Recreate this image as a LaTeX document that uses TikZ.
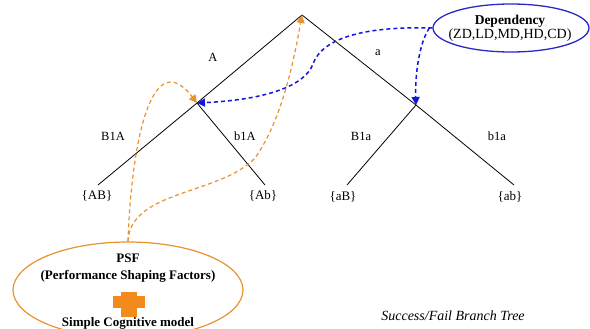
\documentclass[tikz,border=0pt]{standalone}
\usepackage{fontspec}
\setmainfont{Liberation Serif}
\usetikzlibrary{arrows.meta,shapes.geometric}
\definecolor{orangeline}{RGB}{232,146,48}
\definecolor{orangefill}{RGB}{242,138,28}
\definecolor{blueline}{RGB}{20,20,225}
\definecolor{ellblue}{RGB}{40,40,200}
\begin{document}
\begin{tikzpicture}[x=1pt,y=-1pt,
  branch/.style={draw=black,line width=0.8pt},
  lbl/.style={font=\fontsize{12.5}{13}\selectfont,inner sep=0pt},
  leaf/.style={font=\fontsize{13}{14}\selectfont,inner sep=0pt},
  odash/.style={draw=orangeline,line width=1.2pt,dash pattern=on 4pt off 3pt,-{Triangle[length=8pt,width=8pt]}},
  bdash/.style={draw=blueline,line width=1.5pt,dash pattern=on 4pt off 3pt,-{Triangle[length=8pt,width=8pt]}}]
\useasboundingbox (0,0) rectangle (590,329);
\clip (0,0) rectangle (590,329);
% tree points
\coordinate (root) at (302,15);
\coordinate (nA) at (197,103);
\coordinate (na) at (416,105);
\coordinate (lAB) at (98,185);
\coordinate (lAb) at (265,185);
\coordinate (laB) at (347,185);
\coordinate (lab) at (514,185);
\draw[branch] (root) -- (nA);
\draw[branch] (root) -- (na);
\draw[branch] (nA) -- (lAB);
\draw[branch] (nA) -- (lAb);
\draw[branch] (na) -- (laB);
\draw[branch] (na) -- (lab);
% branch labels
\node[lbl] (tA) at (213,57) {A};
\node[lbl] (ta) at (378,53) {a};
\node[lbl] (tB1A) at (113,136) {B1A};
\node[lbl] (tb1A) at (245,136) {b1A};
\node[lbl] (tB1a) at (361,136) {B1a};
\node[lbl] (tb1a) at (497,136) {b1a};
% leaves
\node[leaf] (sAB) at (97,196) {\{AB\}};
\node[leaf] (sAb) at (263,196) {\{Ab\}};
\node[leaf] (saB) at (343,197) {\{aB\}};
\node[leaf] (sab) at (510,197) {\{ab\}};
% dependency ellipse
\node[draw=ellblue,line width=1.3pt,ellipse,minimum width=156pt,minimum height=48pt,inner sep=0pt] (dep) at (511,28) {};
\node[inner sep=0pt,font=\fontsize{13.5}{14}\selectfont\bfseries] (depT) at (510,21) {Dependency};
\node[inner sep=0pt,font=\fontsize{14}{14}\selectfont] (depS) at (510,35) {(ZD,LD,MD,HD,CD)};
% PSF ellipse
\node[draw=orangeline,line width=1.2pt,ellipse,minimum width=230pt,minimum height=96pt,inner sep=0pt] (psf) at (128,290) {};
\node[inner sep=0pt,font=\fontsize{13}{14}\selectfont\bfseries] (psfT) at (128,258) {PSF};
\node[inner sep=0pt,font=\fontsize{13}{14}\selectfont\bfseries] (psfS) at (128,276) {(Performance Shaping Factors)};
\fill[orangefill] (113,296) rectangle (145,308);
\fill[orangefill] (121,292) rectangle (137,317);
\node[inner sep=0pt,font=\fontsize{13}{14}\selectfont\bfseries] (psfM) at (128,323) {Simple Cognitive model};
% caption
\node[inner sep=0pt,font=\fontsize{14}{15}\selectfont\itshape] (cap) at (453,316) {Success/Fail Branch Tree};
% orange connectors
\draw[odash] (psf.north) .. controls (131,150) and (150,42) .. (nA);
\draw[odash] (psf.north) .. controls (130,190) and (220,195) .. (255,158) .. controls (282,120) and (294,60) .. (root);
% blue connectors
\draw[bdash] (dep.west) .. controls (365,26) and (322,38) .. (313,64) .. controls (304,88) and (260,100) .. (nA);
\draw[bdash] ([xshift=-3pt]dep.west) .. controls (418,45) and (415,80) .. (na);
\end{tikzpicture}
\end{document}
